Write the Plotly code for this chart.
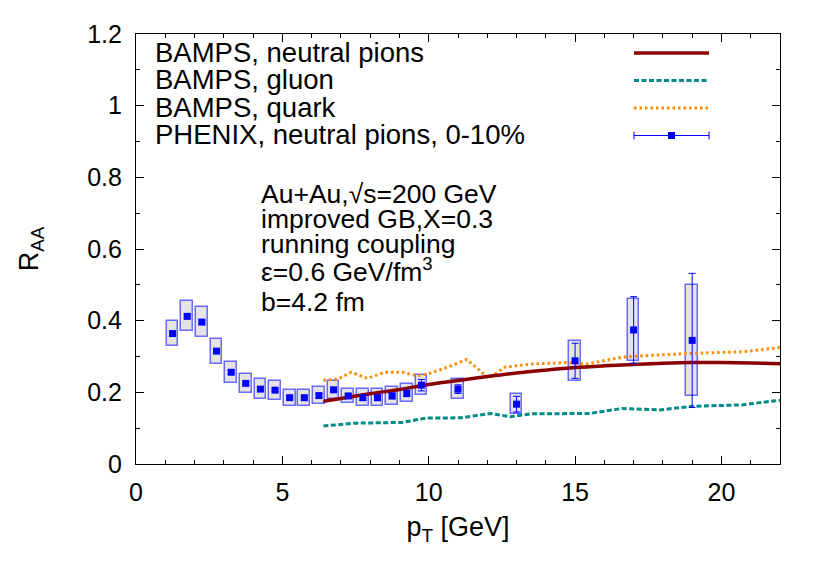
import plotly.graph_objects as go

# ---------------- data ----------------
pt_phenix = [1.25, 1.75, 2.25, 2.75, 3.25, 3.75, 4.25, 4.75, 5.25, 5.75,
             6.25, 6.75, 7.25, 7.75, 8.25, 8.75, 9.25, 9.75,
             11.0, 13.0, 15.0, 17.0, 19.0]
raa_phenix = [0.364, 0.412, 0.396, 0.315, 0.256, 0.225, 0.209, 0.206, 0.185, 0.185,
              0.191, 0.207, 0.190, 0.185, 0.185, 0.190, 0.197, 0.220,
              0.209, 0.167, 0.288, 0.374, 0.345]
sys_phenix = [0.036, 0.042, 0.042, 0.035, 0.030, 0.026, 0.027, 0.026, 0.022, 0.022,
              0.023, 0.025, 0.020, 0.023, 0.023, 0.024, 0.025, 0.028,
              0.028, 0.027, 0.055, 0.087, 0.154]
stat_phenix = [0.004, 0.005, 0.005, 0.004, 0.004, 0.004, 0.004, 0.004, 0.004, 0.004,
               0.005, 0.006, 0.006, 0.007, 0.008, 0.008, 0.009, 0.016,
               0.012, 0.022, 0.049, 0.093, 0.187]

pt_pion = [6.4, 7.0, 8.0, 9.0, 10.0, 11.0, 12.0, 13.0, 14.0, 15.0, 16.0, 17.0, 18.0, 19.0, 20.0, 21.0, 22.0]
raa_pion = [0.175, 0.183, 0.196, 0.208, 0.222, 0.233, 0.244, 0.254, 0.262, 0.269, 0.274, 0.278,
            0.281, 0.283, 0.283, 0.282, 0.280]

pt_gluon = [6.4, 7.5, 9.1, 9.9, 11.1, 12.1, 12.8, 13.5, 15.5, 16.6, 17.9, 19.0, 20.7, 22.0]
raa_gluon = [0.106, 0.114, 0.116, 0.128, 0.129, 0.141, 0.132, 0.140, 0.141, 0.155, 0.151, 0.161, 0.165, 0.178]

pt_quark = [6.4, 6.9, 7.35, 7.9, 8.5, 9.1, 9.6, 10.05, 10.7, 11.3, 12.05, 12.6, 13.5, 14.7,
            15.4, 16.6, 17.1, 19.0, 20.7, 22.0]
raa_quark = [0.234, 0.237, 0.256, 0.239, 0.256, 0.256, 0.246, 0.253, 0.272, 0.292, 0.239, 0.270,
             0.279, 0.283, 0.279, 0.298, 0.301, 0.309, 0.313, 0.325]

legend_labels = ["BAMPS, neutral pions", "BAMPS, gluon", "BAMPS, quark",
                 "PHENIX, neutral pions, 0-10%"]
info_lines = ["Au+Au,\u221as=200 GeV", "improved GB,X=0.3", "running coupling",
              "\u03b5=0.6 GeV/fm<sup>3</sup>", "b=4.2 fm"]

# ---------------- styling ----------------
FONT = "Liberation Sans, Arial, Helvetica, sans-serif"
FS_LEG = 27.5
FS_INFO = 26.5
FS_TICK = 25
FS_TITLE = 27
C_PION = "#8b0000"
C_GLUON = "#008b8b"
C_QUARK = "#ff8c00"
C_DATA = "#0000ff"
BOX_W = 0.4

PAGE_OFF = 8            # default body margin of the html page
W, H = 830 - PAGE_OFF, 581 - PAGE_OFF
L, R, T, B = 136, 780, 34, 464   # plot frame in window pixels


def px(x):
    return (x - L) / (R - L)


def py(y):
    return (B - y) / (B - T)


fig = go.Figure()

# systematic boxes
fig.add_trace(go.Bar(
    x=pt_phenix,
    y=[2 * s for s in sys_phenix],
    base=[r - s for r, s in zip(raa_phenix, sys_phenix)],
    width=BOX_W,
    marker=dict(color="#e4e4e4", line=dict(color="rgba(60,60,255,0.75)", width=1.5)),
    showlegend=False, hoverinfo="skip",
))

fig.add_trace(go.Scatter(x=pt_gluon, y=raa_gluon, mode="lines",
                         line=dict(color=C_GLUON, width=3, dash="5px,2.5px"), showlegend=False))
fig.add_trace(go.Scatter(x=pt_quark, y=raa_quark, mode="lines",
                         line=dict(color=C_QUARK, width=3, dash="2.5px,3px"), showlegend=False))
fig.add_trace(go.Scatter(x=pt_pion, y=raa_pion, mode="lines",
                         line=dict(color=C_PION, width=3.5, shape="spline"), showlegend=False))

fig.add_trace(go.Scatter(
    x=pt_phenix, y=raa_phenix, mode="markers",
    marker=dict(symbol="square", size=7, color=C_DATA),
    error_y=dict(type="data", array=stat_phenix, color=C_DATA, thickness=1, width=3.5),
    showlegend=False,
))

# dummy trace so the mirrored (top/right) tick axes are drawn
fig.add_trace(go.Scatter(x=[None], y=[None], xaxis="x2", yaxis="y2", showlegend=False,
                         hoverinfo="skip"))

# ---------------- legend (key on right, like gnuplot) ----------------
leg_text_x = 153
leg_base = [63, 90.3, 117.6, 144.9]
leg_sample_y = [53, 80.5, 108, 135.5]
sx0, sx1 = 634, 709

annotations = []
for lab, yb in zip(legend_labels, leg_base):
    annotations.append(dict(text=lab, xref="paper", yref="paper", x=px(leg_text_x), y=py(yb + 7),
                            xanchor="left", yanchor="bottom", showarrow=False,
                            font=dict(family=FONT, size=FS_LEG, color="black")))

shapes = []
shapes.append(dict(type="line", xref="paper", yref="paper", x0=px(sx0), x1=px(sx1),
                   y0=py(leg_sample_y[0]), y1=py(leg_sample_y[0]), line=dict(color=C_PION, width=3.5)))
shapes.append(dict(type="line", xref="paper", yref="paper", x0=px(sx0), x1=px(sx1),
                   y0=py(leg_sample_y[1]), y1=py(leg_sample_y[1]),
                   line=dict(color=C_GLUON, width=3, dash="5px,2.5px")))
shapes.append(dict(type="line", xref="paper", yref="paper", x0=px(sx0), x1=px(sx1),
                   y0=py(leg_sample_y[2]), y1=py(leg_sample_y[2]),
                   line=dict(color=C_QUARK, width=3, dash="2.5px,3px")))
yl = leg_sample_y[3]
shapes.append(dict(type="line", xref="paper", yref="paper", x0=px(sx0), x1=px(sx1),
                   y0=py(yl), y1=py(yl), line=dict(color=C_DATA, width=1)))
for xc in (sx0, sx1):
    shapes.append(dict(type="line", xref="paper", yref="paper", x0=px(xc), x1=px(xc),
                       y0=py(yl - 4), y1=py(yl + 4), line=dict(color=C_DATA, width=1)))
xm = (sx0 + sx1) / 2
shapes.append(dict(type="rect", xref="paper", yref="paper", x0=px(xm - 3.5), x1=px(xm + 3.5),
                   y0=py(yl - 3.5), y1=py(yl + 3.5), fillcolor=C_DATA, line=dict(width=0)))

# ---------------- info text ----------------
info_x = 259
info_base = [203.5, 229, 254, 281.5, 312]
for txt, yb in zip(info_lines, info_base):
    annotations.append(dict(text=txt, xref="paper", yref="paper", x=px(info_x), y=py(yb + 7),
                            xanchor="left", yanchor="bottom", showarrow=False,
                            font=dict(family=FONT, size=FS_INFO, color="black")))

axis_common = dict(
    showline=True, linecolor="black", linewidth=1.2, mirror=True,
    ticks="inside", ticklen=8, tickwidth=1, tickcolor="black",
    showgrid=False, zeroline=False,
    tickfont=dict(family=FONT, size=FS_TICK, color="black"),
)
mirror_common = dict(
    showline=False, ticks="inside", ticklen=8, tickwidth=1, tickcolor="black",
    showgrid=False, zeroline=False, showticklabels=False,
)

fig.update_layout(
    width=W, height=H,
    margin=dict(l=L - PAGE_OFF, r=830 - R, t=T - PAGE_OFF, b=581 - B),
    paper_bgcolor="white", plot_bgcolor="white",
    barmode="overlay", bargap=0,
    showlegend=False,
    annotations=annotations, shapes=shapes,
    font=dict(family=FONT, size=FS_TICK, color="black"),
    xaxis=dict(range=[0, 22], dtick=5, tick0=0,
               minor=dict(dtick=1, ticks="inside", ticklen=4, tickcolor="black"),
               title=dict(text="p<sub>T</sub> [GeV]", font=dict(family=FONT, size=FS_TITLE), standoff=12),
               ticklabelstandoff=6, **axis_common),
    yaxis=dict(range=[0, 1.2], tickvals=[0, 0.2, 0.4, 0.6, 0.8, 1.0, 1.2],
               ticktext=["0", "0.2", "0.4", "0.6", "0.8", "1", "1.2"],
               minor=dict(tickvals=[0.1, 0.3, 0.5, 0.7, 0.9, 1.1], ticks="inside", ticklen=4,
                          tickcolor="black"),
               title=dict(text="R<sub>AA</sub>", font=dict(family=FONT, size=FS_TITLE), standoff=40),
               ticklabelstandoff=8, **axis_common),
    xaxis2=dict(overlaying="x", side="top", range=[0, 22], dtick=5, tick0=0,
                minor=dict(dtick=1, ticks="inside", ticklen=4, tickcolor="black"),
                **mirror_common),
    yaxis2=dict(overlaying="y", side="right", range=[0, 1.2], dtick=0.2, tick0=0,
                minor=dict(dtick=0.1, ticks="inside", ticklen=4, tickcolor="black"),
                **mirror_common),
)

fig.write_html("out.html")
